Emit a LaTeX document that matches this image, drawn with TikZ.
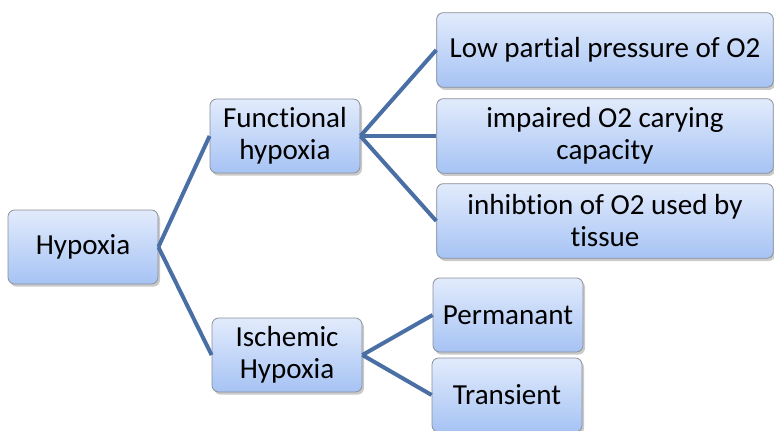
\documentclass[tikz,border=0pt]{standalone}
\usepackage{fontspec}
\setmainfont[Ligatures=NoCommon]{Carlito}
\usetikzlibrary{shadows}
\definecolor{boxtop}{HTML}{E2EBFC}
\definecolor{boxbot}{HTML}{A6C3F4}
\definecolor{boxline}{HTML}{8A8F98}
\definecolor{link}{HTML}{4A6FA5}
\begin{document}
\begin{tikzpicture}[x=0.75pt,y=-0.75pt,
  box/.style={draw=boxline,line width=0.6pt,rounded corners=5pt,top color=boxtop,bottom color=boxbot,
    align=center,font=\fontsize{21.8}{24}\selectfont,inner sep=0pt,
    drop shadow={shadow xshift=1.5pt,shadow yshift=-2pt,opacity=0.35,fill=black!60}},
  smallbox/.style={box,minimum width=112.5pt,minimum height=55.5pt},
  widebox/.style={box,minimum width=252.5pt,minimum height=56pt},
  link/.style={draw=link,line width=3pt}]
\useasboundingbox (0,0) rectangle (774,431);
\clip (0,0) rectangle (774,431);
\node[smallbox] (hyp) at (83,247) {Hypoxia};
\node[smallbox] (fun) at (285,136) {Functional\\hypoxia};
\node[smallbox] (isc) at (287,355) {Ischemic\\Hypoxia};
\node[widebox] (low) at (605,50) {Low partial pressure of O2};
\node[widebox] (imp) at (605,136) {impaired O2 carying\\capacity};
\node[widebox] (inh) at (605,221) {inhibtion of O2 used by\\tissue};
\node[smallbox] (per) at (508,315) {Permanant};
\node[smallbox] (tra) at (507,395) {Transient};
\draw[link] (hyp.east) -- (fun.west);
\draw[link] (hyp.east) -- (isc.west);
\draw[link] (fun.east) -- (low.west);
\draw[link] (fun.east) -- (imp.west);
\draw[link] (fun.east) -- (inh.west);
\draw[link] (isc.east) -- (per.west);
\draw[link] (isc.east) -- (tra.west);
\end{tikzpicture}
\end{document}
